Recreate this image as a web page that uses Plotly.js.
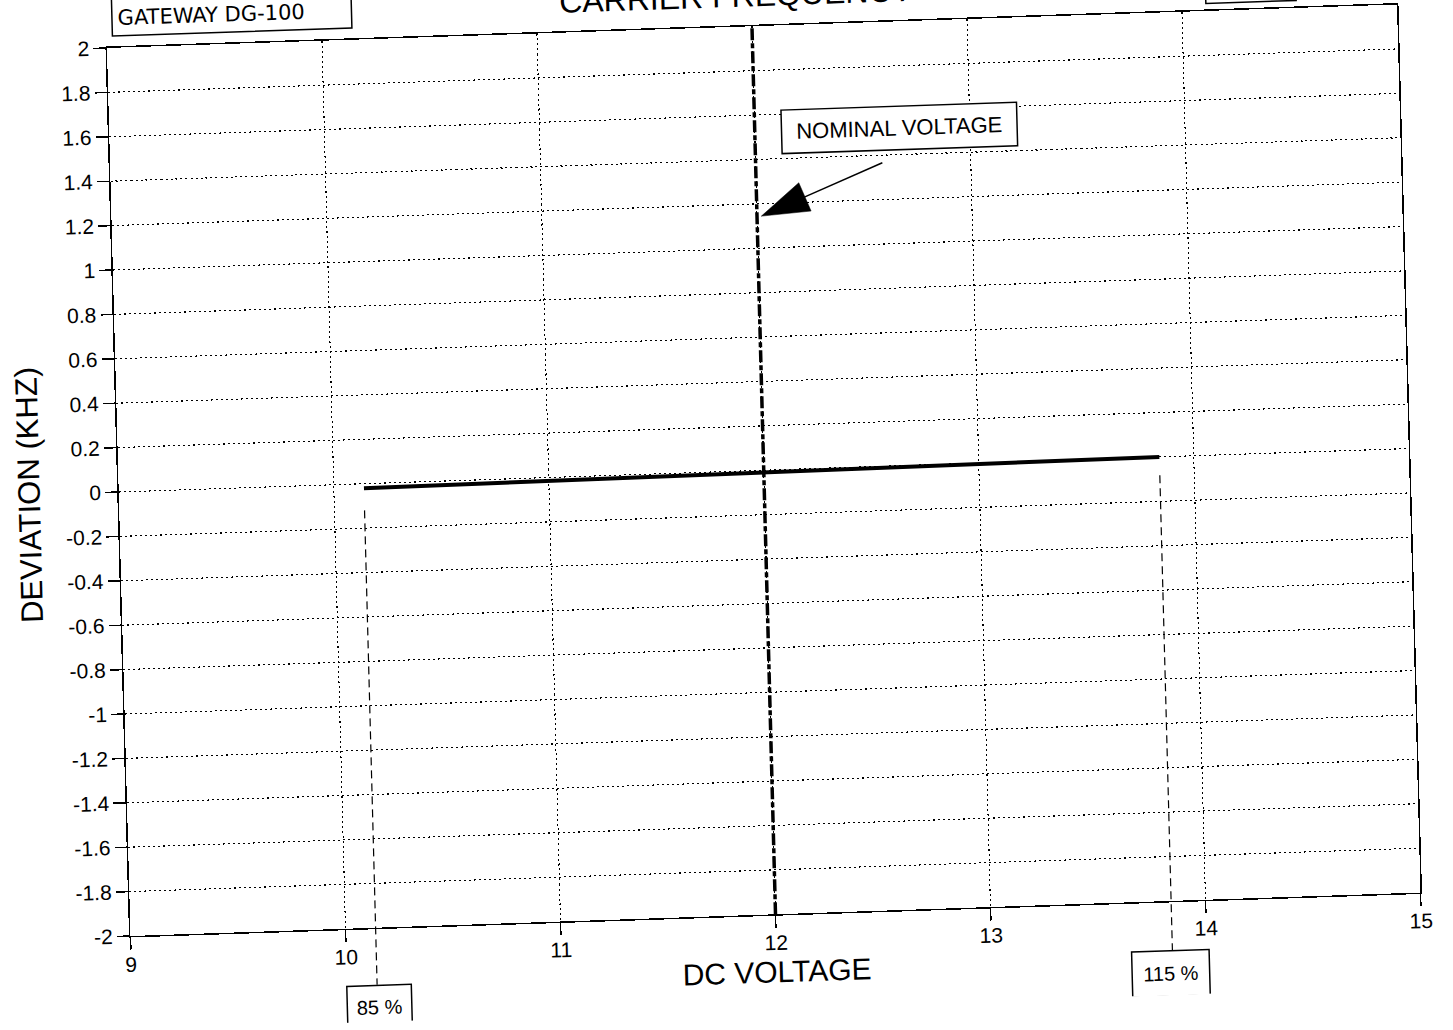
<!DOCTYPE html>
<html>
<head>
<meta charset="utf-8">
<script src="https://cdn.plot.ly/plotly-3.0.1.min.js"></script>
<style>
html, body { margin: 0; padding: 0; background: #fff; overflow: hidden; width: 1453px; height: 1030px; }
#chart { width: 1453px; height: 1030px; transform-origin: 0 0; transform: matrix(1, -0.0337, 0.0265, 1, -1.3, 3.6); }
</style>
</head>
<body>
<div id="chart"></div>
<script>
// ---- data ----
const voltage = [10.14, 12, 13.84];
const deviation = [-0.02, -0.01, 0.0];
const nominalVoltage = 12;
const limitVoltages = [10.14, 13.84];
const limitLabels = ['85 %', '115 %'];
const xRange = [9, 15];
const yRange = [-2, 2];
const xTickVals = [9, 10, 11, 12, 13, 14, 15];
const yTickVals = [2, 1.8, 1.6, 1.4, 1.2, 1, 0.8, 0.6, 0.4, 0.2, 0, -0.2, -0.4, -0.6, -0.8, -1, -1.2, -1.4, -1.6, -1.8, -2];
const yTickText = ['2', '1.8', '1.6', '1.4', '1.2', '1', '0.8', '0.6', '0.4', '0.2', '0', '-0.2', '-0.4', '-0.6', '-0.8', '-1', '-1.2', '-1.4', '-1.6', '-1.8', '-2'];
const titleText = 'CARRIER FREQUENCY';
const boxText = 'GATEWAY DG-100';
const nominalText = 'NOMINAL VOLTAGE';
const xTitle = 'DC VOLTAGE';
const yTitle = 'DEVIATION (KHZ)';

// annotation geometry (in axis units)
const nominalLabelPos = [12.67, 1.52];
const arrowTail = [12.589, 1.366];
const arrowTip = [12.02, 1.144];
const limitLineTop = [-0.12, -0.083];

const sans = 'Liberation Sans, Arial, Helvetica, sans-serif';
const toPaperY = v => (v - yRange[0]) / (yRange[1] - yRange[0]);

const traces = [
  {
    x: voltage, y: deviation, type: 'scatter', mode: 'lines',
    line: { color: '#000', width: 4 }, hoverinfo: 'skip'
  },
  {
    x: [nominalVoltage, nominalVoltage], y: yRange, type: 'scatter', mode: 'lines',
    line: { color: '#000', width: 3.5, dash: '12px,3px,5px,3px' }, hoverinfo: 'skip'
  },
  {
    x: [arrowTail[0], arrowTip[0]], y: [arrowTail[1], arrowTip[1]], type: 'scatter', mode: 'lines+markers',
    opacity: 1,
    line: { color: '#000', width: 1.5 },
    marker: { symbol: ['circle', 'arrow'], size: [0, 50], color: 'rgb(0,0,0)', opacity: 1, angleref: 'previous', line: { width: 0.5, color: 'rgb(0,0,0)' } },
    hoverinfo: 'skip'
  }
];

const shapes = limitVoltages.map((v, i) => ({
  type: 'line', xref: 'x', yref: 'paper',
  x0: v, x1: v, y0: toPaperY(limitLineTop[i]), y1: i === 0 ? -0.0642 : -0.0557,
  line: { color: '#000', width: 1.2, dash: '8px,5px' }
}));
shapes.push({
  type: 'rect', xref: 'paper', yref: 'paper',
  x0: 0.852, x1: 0.922, y0: 1.0084, y1: 1.12,
  line: { color: '#000', width: 1.5 }
});

const annotations = [
  {
    text: nominalText, x: nominalLabelPos[0], y: nominalLabelPos[1], xref: 'x', yref: 'y',
    showarrow: false, xanchor: 'center', yanchor: 'middle',
    width: 222, height: 30, borderpad: 6, bordercolor: '#000', borderwidth: 1.5, bgcolor: '#fff',
    font: { family: sans, size: 22, color: '#000' }
  },
  {
    text: boxText, xref: 'paper', yref: 'paper', x: 0.0039, y: 1.0124,
    xanchor: 'left', yanchor: 'bottom', showarrow: false,
    width: 228, height: 50, valign: 'bottom', align: 'left', borderpad: 5,
    bordercolor: '#000', borderwidth: 1.5, bgcolor: '#fff',
    font: { family: 'DejaVu Sans, sans-serif', size: 21, color: '#000' }
  },
  {
    text: limitLabels[0], xref: 'x', yref: 'paper', x: limitVoltages[0], y: -0.0642,
    xanchor: 'center', yanchor: 'top', showarrow: false, xshift: 2,
    width: 51, height: 30, borderpad: 6, bordercolor: '#000', borderwidth: 1.5, bgcolor: '#fff',
    font: { family: sans, size: 20, color: '#000' }
  },
  {
    text: limitLabels[1], xref: 'x', yref: 'paper', x: limitVoltages[1], y: -0.0557,
    xanchor: 'center', yanchor: 'top', showarrow: false, xshift: -2,
    width: 64, height: 32, borderpad: 6, bordercolor: '#000', borderwidth: 1.5, bgcolor: '#fff',
    font: { family: sans, size: 20, color: '#000' }
  }
];

const axisCommon = {
  ticks: 'outside', ticklen: 12, tickwidth: 1.5, tickcolor: '#000',
  showline: true, linewidth: 1.5, linecolor: '#000', mirror: true,
  showgrid: true, gridcolor: '#000', gridwidth: 1.1, griddash: '2px,3px',
  zeroline: false, tickfont: { family: sans, size: 21, color: '#000' }
};

const layout = {
  width: 1453, height: 1030,
  margin: { l: 107, r: 56, t: 48, b: 94 },
  paper_bgcolor: '#fff', plot_bgcolor: '#fff',
  showlegend: false,
  font: { family: sans, color: '#000' },
  title: {
    text: titleText, font: { family: sans, size: 32, color: '#000' },
    xref: 'container', yref: 'container', x: 560 / 1453, xanchor: 'left',
    y: 1 - 28 / 1030, yanchor: 'bottom'
  },
  xaxis: Object.assign({}, axisCommon, {
    range: xRange, tickvals: xTickVals, ticklabelstandoff: -3,
    title: { text: xTitle, font: { family: sans, size: 30, color: '#000' }, standoff: 8 }
  }),
  yaxis: Object.assign({}, axisCommon, {
    range: yRange, tickvals: yTickVals, ticktext: yTickText,
    title: { text: yTitle, font: { family: sans, size: 31, color: '#000' }, standoff: 34 }
  }),
  shapes: shapes,
  annotations: annotations
};

Plotly.newPlot('chart', traces, layout, { displayModeBar: false, staticPlot: true });
</script>
</body>
</html>
